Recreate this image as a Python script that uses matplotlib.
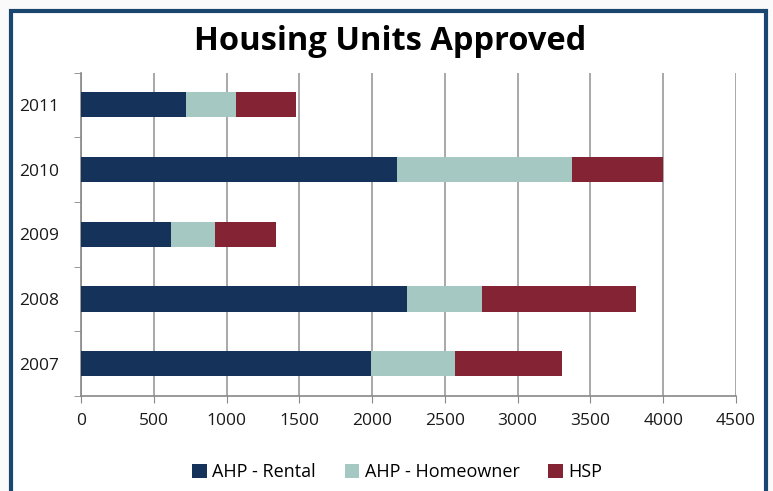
import numpy as np
import matplotlib.pyplot as plt
from matplotlib.patches import Rectangle

# Data
years = ['2007', '2008', '2009', '2010', '2011']
rental = [1990, 2237, 616, 2168, 719]
homeowner = [579, 519, 302, 1202, 343]
hsp = [737, 1060, 424, 630, 412]

series_names = ['AHP - Rental', 'AHP - Homeowner', 'HSP']
colors = ['#14325a', '#a6c8c2', '#842333']

xticks = [0, 500, 1000, 1500, 2000, 2500, 3000, 3500, 4000, 4500]

plt.rcParams['font.family'] = ['Open Sans', 'DejaVu Sans']

fig = plt.figure(figsize=(7.73, 4.91), dpi=100)
fig.patch.set_facecolor('#fafafa')

# Blue frame around the chart area (drawn behind the axes)
frame = Rectangle((10.5 / 773, -0.05), 755 / 773, 1 - 11.5 / 491 + 0.05,
                  transform=fig.transFigure, facecolor='white',
                  edgecolor='#1a4670', linewidth=3, zorder=-5)
fig.patches.append(frame)

ax = fig.add_axes([81 / 773, 1 - 396 / 491, 655 / 773, 323.5 / 491])
ax.set_facecolor('none')
ax.set_zorder(2)

y = np.arange(len(years))
left = np.zeros(len(years))
for vals, name, c in zip([rental, homeowner, hsp], series_names, colors):
    ax.barh(y, vals, left=left, height=0.39, color=c, label=name, zorder=3)
    left = left + np.array(vals)

ax.set_xlim(0, 4500)
ax.set_ylim(-0.5, len(years) - 0.5)
ax.set_xticks(xticks)
ax.set_xticklabels([str(t) for t in xticks], fontsize=12.5, color='#1a1a1a')
ax.set_yticks(y)
ax.set_yticklabels(years, fontsize=12.5, color='#1a1a1a')
ax.set_yticks(np.arange(-0.5, len(years)), minor=True)
ax.tick_params(axis='y', which='major', length=0, pad=16)
ax.tick_params(axis='y', which='minor', length=5, color='#888888')
ax.tick_params(axis='x', length=5, color='#888888', pad=7)

ax.grid(axis='x', color='#999999', linewidth=1.2, zorder=0)
for s in ['top', 'right']:
    ax.spines[s].set_visible(False)
for s in ['left', 'bottom']:
    ax.spines[s].set_color('#888888')
    ax.spines[s].set_linewidth(1.2)

fig.text(0.505, 1 - 42 / 491, 'Housing Units Approved', ha='center', va='center',
         fontsize=23.5, fontweight='bold', color='black', zorder=3)

leg = fig.legend(loc='center', bbox_to_anchor=(0.514, 1 - 472 / 491), ncol=3,
                 frameon=False, fontsize=13, handlelength=0.8, handleheight=0.8,
                 handletextpad=0.3, columnspacing=1.6)
leg.set_zorder(3)

fig.savefig('out.png', dpi=100, facecolor=fig.get_facecolor())
